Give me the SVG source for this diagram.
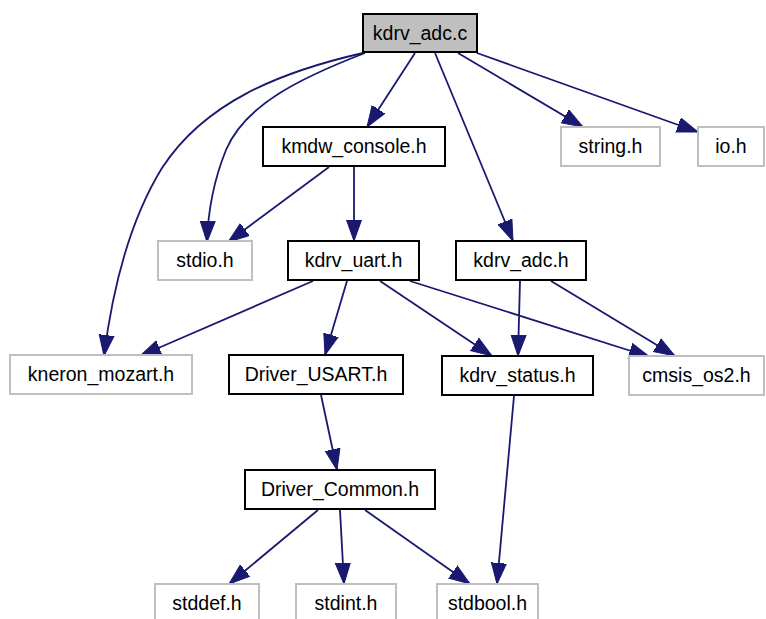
<svg xmlns="http://www.w3.org/2000/svg" width="766" height="619" viewBox="0 0 766 619">
  <defs>
    <style>
      .node rect { fill: #ffffff; stroke: #000000; stroke-width: 2; }
      .node.sys rect { stroke: #bfbfbf; }
      .node.root rect { fill: #bfbfbf; }
      .node text { font-family: "Liberation Sans", Arial, sans-serif; font-size: 19.5px; fill: #000000; text-anchor: middle; }
      .edges path { fill: none; stroke: #191970; stroke-width: 1.8; marker-end: url(#arrow); }
    </style>
    <marker id="arrow" markerUnits="userSpaceOnUse" markerWidth="23" markerHeight="17" refX="21" refY="8" orient="auto" viewBox="0 0 23 17">
      <path d="M0,0.5 L21,8 L0,15.5 Z" fill="#191970" stroke="#191970" stroke-width="1"/>
    </marker>
  </defs>
  <rect width="766" height="619" fill="#ffffff"/>

  <g class="edges">
    <path d="M415,53 L367,127"/>
    <path d="M365,53 C300,78 245,105 226,150 C213,182 208,212 207,242"/>
    <path d="M363,53 C280,72 205,102 162,168 C130,220 113,285 104,356"/>
    <path d="M435,53 L513,241"/>
    <path d="M458,53 L583,127"/>
    <path d="M477,53 L698,132"/>
    <path d="M329,167 L228,242"/>
    <path d="M354,167 L354,241"/>
    <path d="M313,281 L140,356"/>
    <path d="M347,281 L325,355"/>
    <path d="M380,281 L492,356"/>
    <path d="M410,281 L650,357"/>
    <path d="M520,281 L518,356"/>
    <path d="M551,281 L675,356"/>
    <path d="M321,395 L337,470"/>
    <path d="M514,396 L497,584"/>
    <path d="M318,510 L229,584"/>
    <path d="M340,510 L344,584"/>
    <path d="M365,510 L470,584"/>
  </g>

  <g id="node-kdrv_adc_c" class="node root">
    <rect x="363" y="14" width="114" height="38"/>
    <text x="420" y="40">kdrv_adc.c</text>
  </g>
  <g id="node-kmdw_console_h" class="node">
    <rect x="263" y="127" width="182" height="39"/>
    <text x="354" y="153">kmdw_console.h</text>
  </g>
  <g id="node-string_h" class="node sys">
    <rect x="561" y="127" width="99" height="39"/>
    <text x="610.5" y="153">string.h</text>
  </g>
  <g id="node-io_h" class="node sys">
    <rect x="698" y="127" width="66" height="39"/>
    <text x="731" y="153">io.h</text>
  </g>
  <g id="node-stdio_h" class="node sys">
    <rect x="158" y="241" width="94" height="39"/>
    <text x="205" y="267">stdio.h</text>
  </g>
  <g id="node-kdrv_uart_h" class="node">
    <rect x="288" y="241" width="131" height="39"/>
    <text x="353.5" y="267">kdrv_uart.h</text>
  </g>
  <g id="node-kdrv_adc_h" class="node">
    <rect x="456" y="241" width="130" height="39"/>
    <text x="521" y="267">kdrv_adc.h</text>
  </g>
  <g id="node-kneron_mozart_h" class="node sys">
    <rect x="10" y="355" width="182" height="39"/>
    <text x="101" y="381">kneron_mozart.h</text>
  </g>
  <g id="node-Driver_USART_h" class="node">
    <rect x="229" y="355" width="174" height="39"/>
    <text x="316" y="381">Driver_USART.h</text>
  </g>
  <g id="node-kdrv_status_h" class="node">
    <rect x="442" y="356" width="151" height="39"/>
    <text x="517.5" y="382">kdrv_status.h</text>
  </g>
  <g id="node-cmsis_os2_h" class="node sys">
    <rect x="629" y="356" width="135" height="39"/>
    <text x="696.5" y="382">cmsis_os2.h</text>
  </g>
  <g id="node-Driver_Common_h" class="node">
    <rect x="245" y="470" width="190" height="39"/>
    <text x="340" y="496">Driver_Common.h</text>
  </g>
  <g id="node-stddef_h" class="node sys">
    <rect x="155" y="584" width="104" height="39"/>
    <text x="207" y="610">stddef.h</text>
  </g>
  <g id="node-stdint_h" class="node sys">
    <rect x="296" y="584" width="100" height="39"/>
    <text x="346" y="610">stdint.h</text>
  </g>
  <g id="node-stdbool_h" class="node sys">
    <rect x="437" y="584" width="101" height="39"/>
    <text x="487.5" y="610">stdbool.h</text>
  </g>
</svg>
